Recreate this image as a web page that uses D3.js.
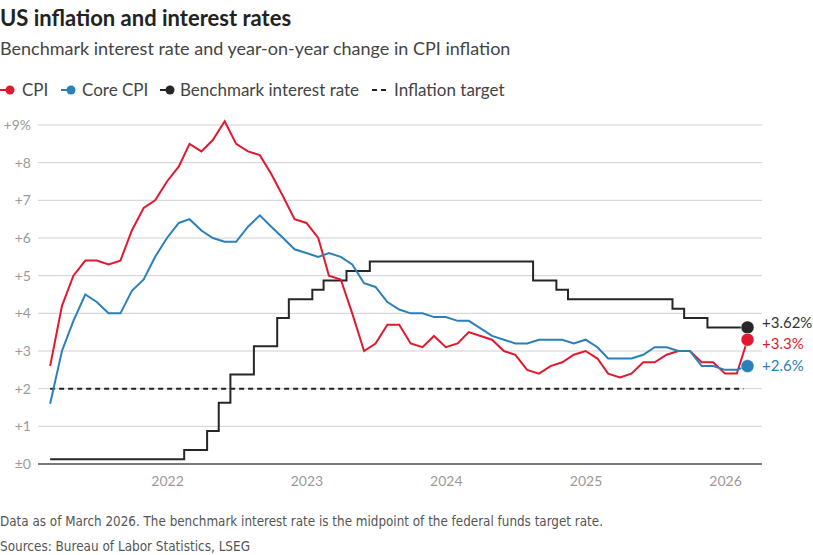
<!DOCTYPE html>
<html lang="en">
<head>
<meta charset="UTF-8">
<title>US inflation and interest rates</title>
<script src="https://d3js.org/d3.v7.min.js"></script>
<style>
    body { margin: 0; background: #fff; }
    svg { display: block; font-family: Lato, "Open Sans", sans-serif; }
    .grid line { stroke: #d0d0d0; stroke-width: 1; }
    .axis text { fill: #9a9a9a; font-size: 14px; }
    .foot { fill: #555; font-size: 14px; font-family: "Liberation Sans Narrow", "DejaVu Sans Condensed", sans-serif; }
</style>
</head>
<body>
<svg id="chart" width="813" height="555"></svg>
<script>
// monthly points, March 2021 to March 2026
const months = d3.timeMonth.range(new Date(2021, 2, 1), new Date(2026, 3, 1));

const cpi = [
    2.6, 4.2, 5.0, 5.4, 5.4, 5.3, 5.4, 6.2, 6.8, 7.0,
    7.5, 7.9, 8.5, 8.3, 8.6, 9.1, 8.5, 8.3, 8.2, 7.7, 7.1, 6.5,
    6.4, 6.0, 5.0, 4.9, 4.0, 3.0, 3.2, 3.7, 3.7, 3.2, 3.1, 3.4,
    3.1, 3.2, 3.5, 3.4, 3.3, 3.0, 2.9, 2.5, 2.4, 2.6, 2.7, 2.9,
    3.0, 2.8, 2.4, 2.3, 2.4, 2.7, 2.7, 2.9, 3.0, 3.0, 2.7, 2.7,
    2.4, 2.4, 3.3
];
const coreCpi = [
    1.6, 3.0, 3.8, 4.5, 4.3, 4.0, 4.0, 4.6, 4.9, 5.5,
    6.0, 6.4, 6.5, 6.2, 6.0, 5.9, 5.9, 6.3, 6.6, 6.3, 6.0, 5.7,
    5.6, 5.5, 5.6, 5.5, 5.3, 4.8, 4.7, 4.3, 4.1, 4.0, 4.0, 3.9,
    3.9, 3.8, 3.8, 3.6, 3.4, 3.3, 3.2, 3.2, 3.3, 3.3, 3.3, 3.2,
    3.3, 3.1, 2.8, 2.8, 2.8, 2.9, 3.1, 3.1, 3.0, 3.0, 2.6, 2.6,
    2.5, 2.5, 2.6
];
const rate = [
    0.125, 0.125, 0.125, 0.125, 0.125, 0.125, 0.125, 0.125, 0.125, 0.125,
    0.125, 0.125, 0.375, 0.375, 0.875, 1.625, 2.375, 2.375, 3.125, 3.125, 3.875, 4.375,
    4.375, 4.625, 4.875, 4.875, 5.125, 5.125, 5.375, 5.375, 5.375, 5.375, 5.375, 5.375,
    5.375, 5.375, 5.375, 5.375, 5.375, 5.375, 5.375, 5.375, 4.875, 4.875, 4.625, 4.375,
    4.375, 4.375, 4.375, 4.375, 4.375, 4.375, 4.375, 4.375, 4.125, 3.875, 3.875, 3.625,
    3.625, 3.625, 3.625
];
const inflationTarget = 2;
const yTicks = [0, 1, 2, 3, 4, 5, 6, 7, 8, 9];
const endLabels = ["+3.62%", "+3.3%", "+2.6%"];

const colors = {cpi: "#e0192e", core: "#2a80b9", rate: "#262626"};

const svg = d3.select("#chart");
const left = 38, right = 762;

const x = d3.scaleTime()
    .domain([new Date(2022, 0, 1), new Date(2026, 0, 1)])
    .range([167, 725]);
const y = d3.scaleLinear().domain([0, 9]).range([464, 125]);

// titles
svg.append("text").attr("x", 0).attr("y", 26)
    .style("font-size", "22px").style("font-weight", "bold").attr("fill", "#222")
    .text("US inflation and interest rates");
svg.append("text").attr("x", 0).attr("y", 55)
    .style("font-size", "18px").attr("fill", "#444")
    .text("Benchmark interest rate and year-on-year change in CPI inflation");

// legend
const legend = [
    {label: "CPI", color: colors.cpi, dot: 10, tx: 22},
    {label: "Core CPI", color: colors.core, dot: 71, tx: 82},
    {label: "Benchmark interest rate", color: colors.rate, dot: 170, tx: 180}
];
const lg = svg.append("g");
legend.forEach(d => {
    lg.append("line").attr("x1", d.dot - 10).attr("x2", d.dot).attr("y1", 90).attr("y2", 90)
        .attr("stroke", d.color).attr("stroke-width", 2);
    lg.append("circle").attr("cx", d.dot).attr("cy", 90).attr("r", 4.5).attr("fill", d.color);
    lg.append("text").attr("x", d.tx).attr("y", 96).style("font-size", "17px").attr("fill", "#444").text(d.label);
});
lg.append("line").attr("x1", 372).attr("x2", 388).attr("y1", 90).attr("y2", 90)
    .attr("stroke", "#222").attr("stroke-width", 2).attr("stroke-dasharray", "5,4");
lg.append("text").attr("x", 394).attr("y", 96).style("font-size", "17px").attr("fill", "#444").text("Inflation target");

// grid
svg.append("g").attr("class", "grid")
    .selectAll("line").data(yTicks.filter(d => d > 0)).join("line")
    .attr("x1", left).attr("x2", right)
    .attr("y1", d => y(d)).attr("y2", d => y(d));
svg.append("line").attr("x1", left).attr("x2", right).attr("y1", y(0)).attr("y2", y(0))
    .attr("stroke", "#7a7a7a").attr("stroke-width", 2);

// axes
svg.append("g").attr("class", "axis")
    .attr("transform", "translate(35,0)")
    .call(d3.axisLeft(y).tickValues(yTicks).tickSize(0).tickPadding(4)
        .tickFormat(d => d === 0 ? "±0" : d === 9 ? "+9%" : "+" + d))
    .call(g => g.select(".domain").remove())
    .selectAll("text").style("font-family", "Lato, sans-serif");

svg.append("g").attr("class", "axis")
    .attr("transform", `translate(0,${y(0)})`)
    .call(d3.axisBottom(x).ticks(d3.timeYear).tickFormat(d3.timeFormat("%Y")).tickSize(0).tickPadding(12))
    .call(g => g.select(".domain").remove())
    .selectAll("text").style("font-family", "Lato, sans-serif");

// inflation target
svg.append("line")
    .attr("x1", x(months[0])).attr("x2", x(months[months.length - 1]) - 4)
    .attr("y1", y(inflationTarget)).attr("y2", y(inflationTarget))
    .attr("stroke", "#222").attr("stroke-width", 2).attr("stroke-dasharray", "5,4");

const series = [
    {values: rate, color: colors.rate, curve: d3.curveStep, label: endLabels[0], text: "#333"},
    {values: cpi, color: colors.cpi, curve: d3.curveLinear, label: endLabels[1], text: colors.cpi},
    {values: coreCpi, color: colors.core, curve: d3.curveLinear, label: endLabels[2], text: colors.core}
];

series.forEach(s => {
    const line = d3.line()
        .x((d, i) => x(months[i]))
        .y(d => y(d))
        .curve(s.curve);
    svg.append("path").datum(s.values)
        .attr("fill", "none").attr("stroke", s.color).attr("stroke-width", 2)
        .attr("stroke-linejoin", "miter")
        .attr("d", line);
});

// end dots and labels
const last = months.length - 1;
const ends = series.map(s => ({...s, v: s.values[last], ly: y(s.values[last])}));
ends.sort((a, b) => a.ly - b.ly);
for (let k = 0; k < 20; k++) {
    for (let i = 1; i < ends.length; i++) {
        const gap = ends[i].ly - ends[i - 1].ly;
        if (gap < 21) {
            const push = (21 - gap) / 2;
            ends[i].ly += push;
            ends[i - 1].ly -= push;
        }
    }
}
ends.forEach(e => {
    svg.append("circle").attr("cx", x(months[last])).attr("cy", y(e.v)).attr("r", 6.5)
        .attr("fill", e.color).attr("stroke", "#fff").attr("stroke-width", 0.5);
    svg.append("text").attr("x", 762).attr("y", e.ly + 5)
        .style("font-size", "15px").attr("fill", e.text).text(e.label);
});

// footer
svg.append("text").attr("class", "foot").attr("x", 0).attr("y", 526)
    .attr("textLength", 603).attr("lengthAdjust", "spacingAndGlyphs")
    .text("Data as of March 2026. The benchmark interest rate is the midpoint of the federal funds target rate.");
svg.append("text").attr("class", "foot").attr("x", 0).attr("y", 551)
    .attr("textLength", 250).attr("lengthAdjust", "spacingAndGlyphs")
    .text("Sources: Bureau of Labor Statistics, LSEG");
</script>
</body>
</html>
